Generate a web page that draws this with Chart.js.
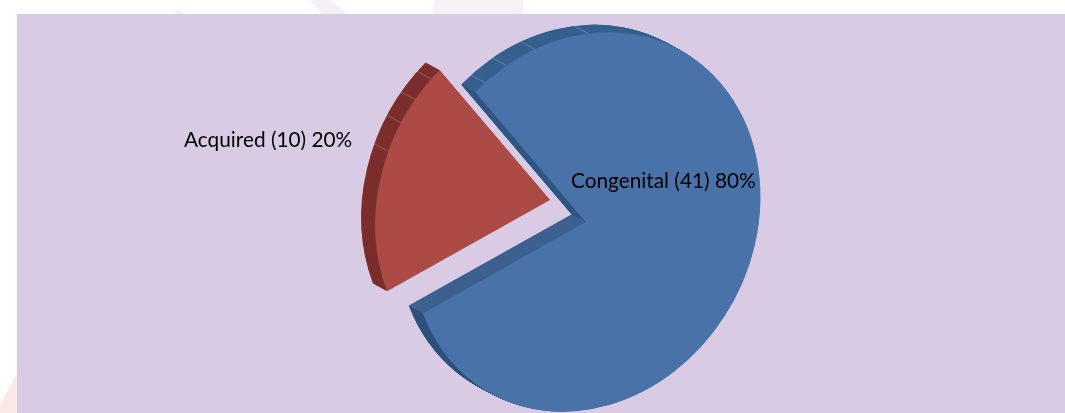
<!DOCTYPE html>
<html>
<head>
<meta charset="utf-8">
<style>
html,body{margin:0;padding:0;background:#fff;width:1065px;height:413px;overflow:hidden}
#deco{position:absolute;left:0;top:0}
#panel{position:absolute;left:17px;top:14px;width:1048px;height:399px;background:#dacbe5}
#wrap{position:absolute;left:0;top:0;width:1065px;height:413px}
</style>
<script src="https://cdn.jsdelivr.net/npm/chart.js@4"></script>
</head>
<body>
<svg id="deco" width="1065" height="413">
  <path d="M170 9 L180 11 L187 14 L178 14 Z" fill="#f4f1f7"/>
  <path d="M310 0 L330 0 L347 14 L322 14 Z" fill="#f3f0f6"/>
  <path d="M435 0 L523 0 L524 14 L433 14 L433 6 Z" fill="#f5f2f7"/>
  <path d="M0 413 L0 405 Q8 390 17 373 L17 413 Z" fill="#fae9e7"/>
</svg>
<div id="panel"></div>
<div id="wrap"><canvas id="c" width="1065" height="413"></canvas></div>
<script>
const categories = ["Congenital", "Acquired"];
const counts = [41, 10];
const shares = [80, 20];

const faceColors = ["#4872a8", "#ac4a46"];
const rimColors = ["#36608f", "#7b2e2c"];
const rimLowColor = "#2e507e";
const wallUpper = "#2f5583";
const wallLower = "#3c6090";
const seamsDeg = [[274, 282.3, 292.3, 310], [241.6, 250.8, 258.7, 266.4]];
const apexes = [[585.7, 222], [550, 200]];
const labelAt = [[571, 181], [184, 140]];
const axisA = [135.4, -138.3];
const axisB = [110.5, 130];
const depth = [-14, -7.6];

const pie3d = {
  id: "pie3d",
  beforeDatasetDraw(chart) {
    const ctx = chart.ctx;
    const arcs = chart.getDatasetMeta(0).data;
    const pt = (i, t) => [
      apexes[i][0] + axisA[0] * Math.cos(t) + axisB[0] * Math.sin(t),
      apexes[i][1] + axisA[1] * Math.cos(t) + axisB[1] * Math.sin(t)
    ];
    const drawArc = (arc, i, color, dx, dy) => {
      const R = arc.outerRadius;
      const a = axisA[0] / R, b = axisA[1] / R, c = axisB[0] / R, d = axisB[1] / R;
      ctx.save();
      ctx.transform(a, b, c, d,
        apexes[i][0] + dx - a * arc.x - c * arc.y,
        apexes[i][1] + dy - b * arc.x - d * arc.y);
      const clone = Object.create(arc, {
        options: { value: Object.create(arc.options, { backgroundColor: { value: color } }) }
      });
      clone.draw(ctx);
      ctx.restore();
    };
    const quad = (p, q, color) => {
      ctx.fillStyle = color;
      ctx.beginPath();
      ctx.moveTo(p[0], p[1]);
      ctx.lineTo(q[0], q[1]);
      ctx.lineTo(q[0] + depth[0], q[1] + depth[1]);
      ctx.lineTo(p[0] + depth[0], p[1] + depth[1]);
      ctx.closePath();
      ctx.fill();
    };
    arcs.forEach((arc, i) => {
      const steps = 28;
      for (let k = steps; k >= 1; k--) {
        const f = k / steps;
        if (i === 0) {
          ctx.save();
          ctx.beginPath(); ctx.rect(0, 0, 1065, 260); ctx.clip();
          drawArc(arc, i, rimColors[i], depth[0] * f, depth[1] * f);
          ctx.restore();
          ctx.save();
          ctx.beginPath(); ctx.rect(0, 260, 1065, 153); ctx.clip();
          drawArc(arc, i, rimLowColor, depth[0] * f, depth[1] * f);
          ctx.restore();
        } else {
          drawArc(arc, i, rimColors[i], depth[0] * f, depth[1] * f);
        }
      }
      ctx.strokeStyle = "rgba(255,255,255,0.22)";
      ctx.lineWidth = 1;
      seamsDeg[i].forEach(deg => {
        const p = pt(i, deg * Math.PI / 180);
        ctx.beginPath();
        ctx.moveTo(p[0], p[1]);
        ctx.lineTo(p[0] + depth[0], p[1] + depth[1]);
        ctx.stroke();
      });
      if (i === 0) {
        quad(apexes[i], pt(i, arc.startAngle), wallUpper);
        quad(apexes[i], pt(i, arc.endAngle), wallLower);
      }
      drawArc(arc, i, faceColors[i], 0, 0);
    });
    ctx.save();
    ctx.fillStyle = "#000";
    ctx.font = "20.8px Lato";
    ctx.textBaseline = "middle";
    ctx.textAlign = "left";
    categories.forEach((name, i) => {
      ctx.fillText(name + " (" + counts[i] + ") " + shares[i] + "%", labelAt[i][0], labelAt[i][1]);
    });
    ctx.restore();
    return false;
  }
};

new Chart(document.getElementById("c"), {
  type: "pie",
  data: {
    labels: categories,
    datasets: [{ data: shares, backgroundColor: faceColors, borderWidth: 0 }]
  },
  options: {
    responsive: false,
    animation: false,
    events: [],
    plugins: { legend: { display: false }, tooltip: { enabled: false } }
  },
  plugins: [pie3d]
});
</script>
</body>
</html>
